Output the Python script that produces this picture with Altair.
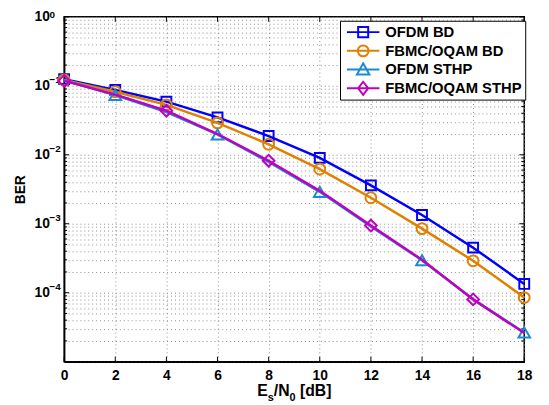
import altair as alt
import pandas as pd

# ---------------- data ----------------
x_vals = [0, 2, 4, 6, 8, 10, 12, 14, 16, 18]
series_names = ["OFDM BD", "FBMC/OQAM BD", "OFDM STHP", "FBMC/OQAM STHP"]
ofdm_bd = [0.125, 0.087, 0.059, 0.0349, 0.0187, 0.0090, 0.0036, 0.00134, 0.00045, 0.000134]
fbmc_bd = [0.122, 0.082, 0.053, 0.029, 0.0142, 0.0062, 0.00238, 0.00085, 0.00029, 0.000085]
ofdm_sthp = [0.120, 0.0736, 0.0415, 0.0197, 0.0079, 0.0029, 0.00091, 0.000296, 0.0000805, 0.0000265]
fbmc_sthp = [0.118, 0.0745, 0.0435, 0.0200, 0.0082, 0.0030, 0.00094, 0.000300, 0.0000800, 0.0000260]
series_values = [ofdm_bd, fbmc_bd, ofdm_sthp, fbmc_sthp]

marker_all = [True] * 10
marker_tri = [False, True, False, True, False, True, False, True, False, True]
marker_dia = [True, False, True, False, True, False, True, False, True, False]
series_markers = [marker_all, marker_all, marker_tri, marker_dia]

colors = ["#0000ff", "#e08000", "#1a8bd0", "#c000c0"]
shapes = ["square", "circle", "triangle-up", "diamond"]
sizes = [100, 121, 140, 140]
# legend glyphs: a line segment with the marker in its middle (unit = 6 px)
legend_paths = [
    "M-1,0H4.5M0.9,-0.85H2.6V0.85H0.9Z",
    "M-1,0H4.5M0.83,0A0.92,0.92 0 1,0 2.67,0A0.92,0.92 0 1,0 0.83,0Z",
    "M-1,0H4.5M1.75,-1.05L2.8,0.85H0.7Z",
    "M-1,0H4.5M1.75,-1.1L2.6,0L1.75,1.1L0.9,0Z",
]

x_ticks = [0, 2, 4, 6, 8, 10, 12, 14, 16, 18]
y_major = [1e-5, 1e-4, 1e-3, 1e-2, 1e-1, 1.0]
y_minor = [m * 10.0 ** e for e in range(-5, 0) for m in range(2, 10)]
y_label_vals = [1e-1, 1e-2, 1e-3, 1e-4]
y_label_exps = ["\u22121", "\u22122", "\u22123", "\u22124"]
y_top_val = [1.0]
y_top_exp = ["0"]

W, H = 467, 350
FONT = "Liberation Sans"

label_expr = (
    "(datum.value > 0.95 || abs(datum.value-0.1) < 1e-9 || "
    "abs(datum.value-0.01) < 1e-10 || abs(datum.value-0.001) < 1e-11 || "
    "abs(datum.value-0.0001) < 1e-12) ? '10' : ''"
)

x_enc = alt.X(
    "x:Q",
    scale=alt.Scale(domain=[0, 18], nice=False, zero=False),
    axis=alt.Axis(
        values=x_ticks, title=None, grid=True, gridDash=[1, 3],
        gridColor="#8c8c8c", ticks=False, labelFont=FONT, labelFontSize=14,
        labelFontWeight="bold", labelColor="black", domainColor="black",
        domainWidth=1.5, labelPadding=7, labelFlush=False,
    ),
)
y_enc = alt.Y(
    "y:Q",
    scale=alt.Scale(type="log", domain=[1e-5, 1], nice=False),
    axis=alt.Axis(
        values=y_major + y_minor, labelExpr=label_expr, labelOverlap=False,
        grid=True, gridDash=[1, 3], gridColor="#8c8c8c", ticks=False,
        labelFont=FONT, labelFontSize=14, labelFontWeight="bold",
        labelColor="black", domainColor="black", domainWidth=1.5,
        labelPadding=15, title="BER", titleFont=FONT, titleFontSize=14,
        titleFontWeight="bold", titleColor="black", titlePadding=7,
    ),
)

layers = []

# inward ticks (box style)
xt = pd.DataFrame({"x": x_ticks})
for y0, y1 in [(H, H - 5), (0, 5)]:
    layers.append(alt.Chart(xt).mark_rule(color="black", strokeWidth=1).encode(
        x=x_enc, y=alt.value(y0), y2=alt.value(y1)))
ytm = pd.DataFrame({"y": y_major})
ytn = pd.DataFrame({"y": y_minor})
for df_t, ln in [(ytm, 5), (ytn, 3)]:
    for x0, x1 in [(0, ln), (W, W - ln)]:
        layers.append(alt.Chart(df_t).mark_rule(color="black", strokeWidth=1).encode(
            y=y_enc, x=alt.value(x0), x2=alt.value(x1)))

# exponents of the y tick labels
for vals, exps, dyy in [(y_label_vals, y_label_exps, -3), (y_top_val, y_top_exp, 1.5)]:
    exp_df = pd.DataFrame({"y": vals, "t": exps})
    layers.append(
        alt.Chart(exp_df).mark_text(
            align="left", baseline="alphabetic", font=FONT, fontSize=10,
            fontWeight="bold", color="black", dy=dyy,
        ).encode(y=y_enc, x=alt.value(-15), text="t:N")
    )

# x-axis title E_s/N_0 [dB]
title_parts = [("E", 16, 196, 0), ("s", 11, 206.7, 5), ("/N", 16, 212.8, 0), ("0", 11, 228.8, 5), ("[dB]", 16, 239.3, 0)]
for txt, fs, px, dyy in title_parts:
    layers.append(
        alt.Chart(pd.DataFrame({"t": [txt]})).mark_text(
            align="left", baseline="alphabetic", font=FONT, fontSize=fs,
            fontWeight="bold", color="black",
        ).encode(text="t:N", x=alt.value(px), y=alt.value(H + 35 + dyy))
    )

# series
all_rows = []
for name, vals, marks, col, shp, sz in zip(series_names, series_values, series_markers, colors, shapes, sizes):
    df = pd.DataFrame({"x": x_vals, "y": vals, "marker": marks, "series": name})
    all_rows.append(df)
    layers.append(alt.Chart(df).mark_line(strokeWidth=2.5, color=col).encode(x=x_enc, y=y_enc))
    layers.append(
        alt.Chart(df).transform_filter("datum.marker")
        .mark_point(filled=False, strokeWidth=2, color=col, shape=shp, size=sz, opacity=1)
        .encode(x=x_enc, y=y_enc)
    )

df_all = pd.concat(all_rows, ignore_index=True)
legend_layer = (
    alt.Chart(df_all).transform_filter("false")
    .mark_point(filled=False, strokeWidth=2, size=144, opacity=1)
    .encode(
        x=x_enc, y=y_enc,
        color=alt.Color("series:N", scale=alt.Scale(domain=series_names, range=colors), legend=alt.Legend(title=None)),
        shape=alt.Shape("series:N", scale=alt.Scale(domain=series_names, range=legend_paths), legend=alt.Legend(title=None)),
    )
)
layers.append(legend_layer)

chart = (
    alt.layer(*layers)
    .properties(
        width=W, height=H,
        autosize=alt.AutoSizeParams(type="none"),
        padding={"left": 57, "top": 6, "right": 17, "bottom": 41},
        background="white",
    )
    .configure_view(stroke="black", strokeWidth=1.5)
    .configure_legend(
        orient="none", legendX=280, legendY=4, padding=3.5, strokeColor="black",
        fillColor="white", labelFont=FONT, labelFontSize=15,
        labelFontWeight="bold", labelColor="black", symbolSize=144,
        symbolStrokeWidth=2, symbolOffset=2, labelOffset=25.5,
        clipHeight=16, rowPadding=3, symbolFillColor="transparent",
        cornerRadius=0,
    )
)

chart.save("out.html", embed_options={"renderer": "svg", "actions": False})
